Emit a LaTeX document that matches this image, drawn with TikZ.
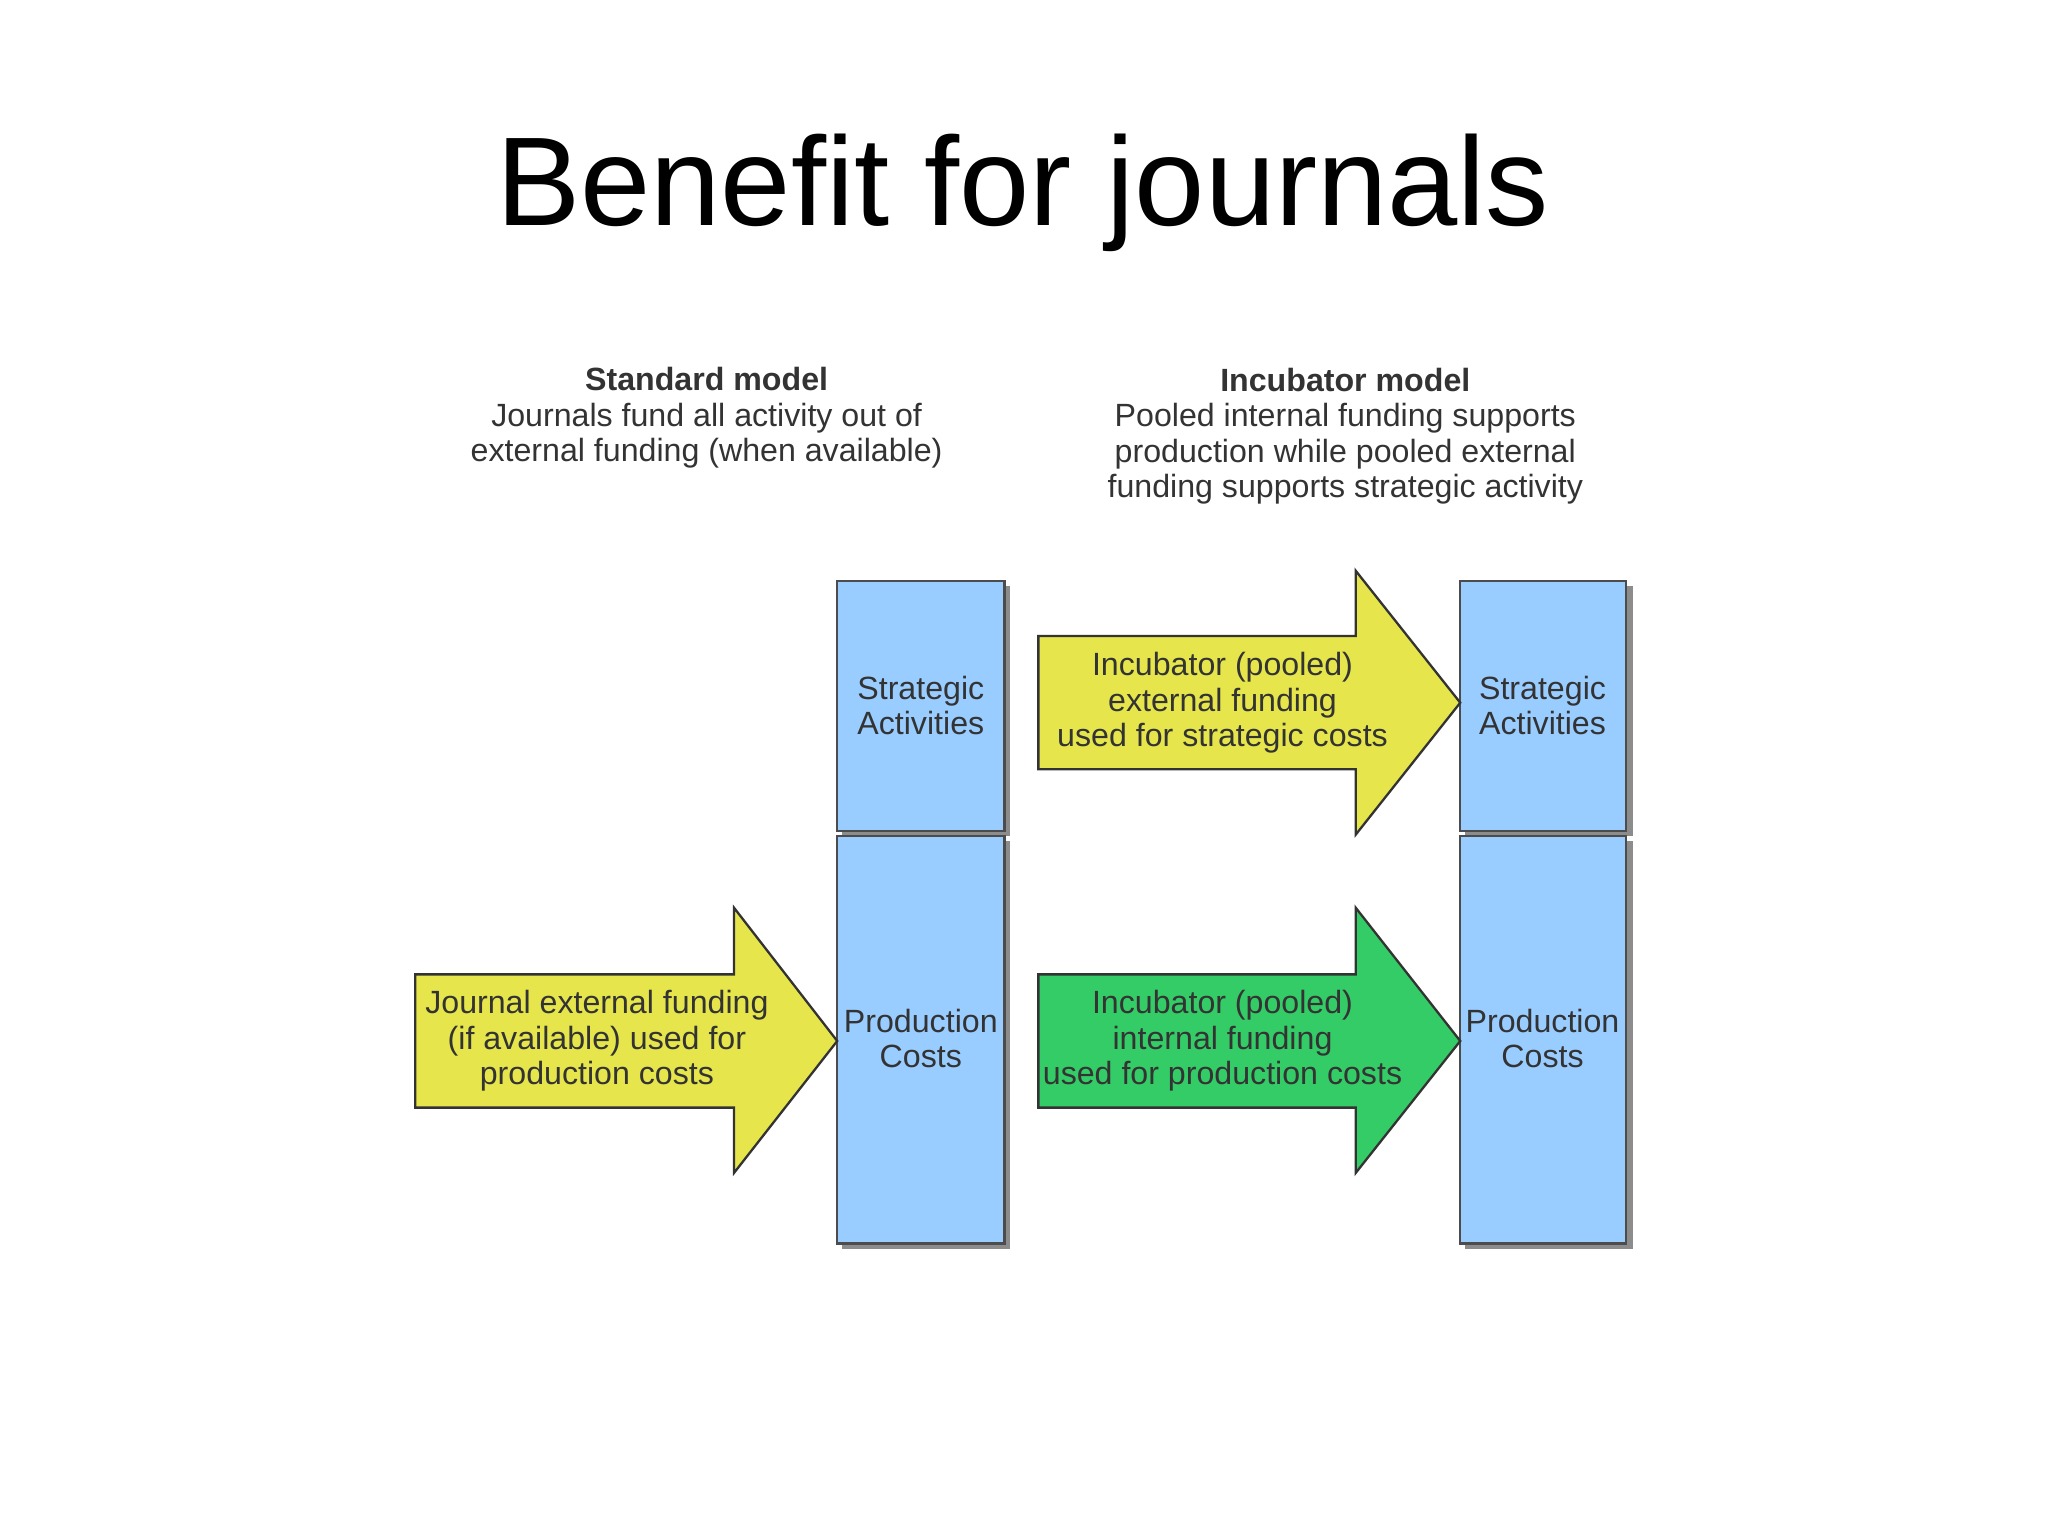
\documentclass[tikz,border=0pt]{standalone}
\usepackage{fontspec}
\setmainfont{Liberation Sans}
\definecolor{bluebox}{HTML}{99CCFF}
\definecolor{yel}{HTML}{E6E64C}
\definecolor{grn}{HTML}{33CC66}
\definecolor{txt}{HTML}{333333}
\begin{document}
\begin{tikzpicture}[x=0.01cm,y=-0.01cm,
  col/.style={draw=black!70,fill=bluebox,line width=0.5pt,minimum width=128\pgflinewidth},
  lbl/.style={font=\fontsize{7pt}{7.7pt}\selectfont,text=txt,align=center},
  arr/.style={draw=black!80,line width=0.5pt}]
\useasboundingbox (0,0) rectangle (1568,1175);
\fill[white] (0,0) rectangle (1568,1175);
\node[font=\fontsize{27.5pt}{30pt}\selectfont] (title) at (783,148) {Benefit for journals};
\node[lbl] (hl) at (541,320) {\textbf{Standard model}\\Journals fund all activity out of\\external funding (when available)};
\node[lbl] (hr) at (1030,334) {\textbf{Incubator model}\\Pooled internal funding supports\\production while pooled external\\funding supports strategic activity};
% shadows
\foreach \x in {641,1118}{
 \fill[black!45] (\x+4,449) rectangle (\x+132,640);
 \fill[black!45] (\x+4,644) rectangle (\x+132,956);
}
\draw[col] (641,445) rectangle (769,636); \node[lbl] (ls) at (705,540) {Strategic\\Activities};
\draw[col] (641,640) rectangle (769,952); \node[lbl] (lp) at (705,795) {Production\\Costs};
\draw[col] (1118,445) rectangle (1245,636); \node[lbl] (rs) at (1181,540) {Strategic\\Activities};
\draw[col] (1118,640) rectangle (1245,952); \node[lbl] (rp) at (1181,795) {Production\\Costs};
% arrows
\draw[arr,fill=yel] (318,746) -- (562,746) -- (562,695) -- (641,797) -- (562,898) -- (562,848) -- (318,848) -- cycle;
\node[lbl] (a1) at (457,797) {Journal external funding\\(if available) used for\\production costs};
\draw[arr,fill=yel] (795,487) -- (1038,487) -- (1038,437) -- (1118,538) -- (1038,639) -- (1038,589) -- (795,589) -- cycle;
\node[lbl] (a2) at (936,538) {Incubator (pooled)\\external funding\\used for strategic costs};
\draw[arr,fill=grn] (795,746) -- (1038,746) -- (1038,695) -- (1118,797) -- (1038,898) -- (1038,848) -- (795,848) -- cycle;
\node[lbl] (a3) at (936,797) {Incubator (pooled)\\internal funding\\used for production costs};
\end{tikzpicture}
\end{document}
